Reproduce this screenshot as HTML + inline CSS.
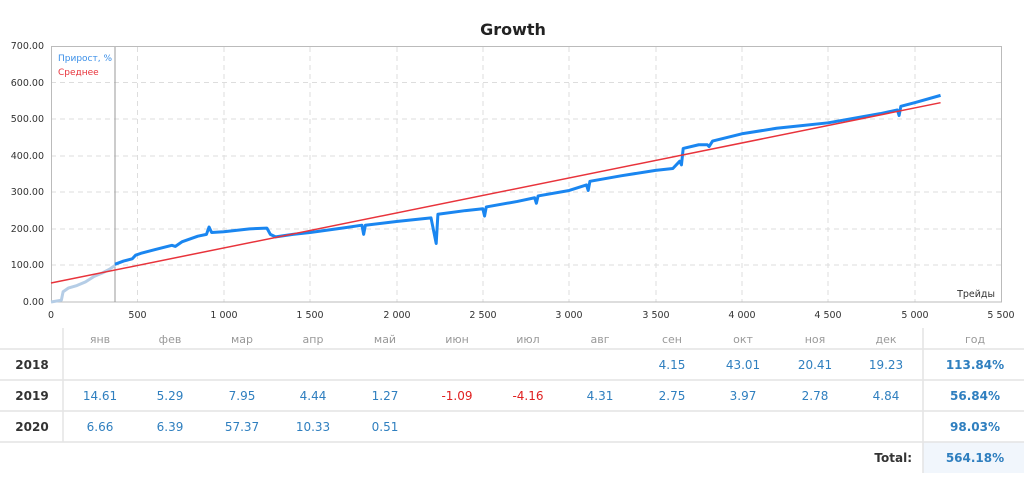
<!DOCTYPE html>
<html><head><meta charset="utf-8"><style>
body{margin:0;background:#fff;width:1024px;height:473px;overflow:hidden;font-family:"Liberation Sans","DejaVu Sans",sans-serif}
svg text{font-family:"DejaVu Sans","Liberation Sans",sans-serif}
</style></head><body>
<svg width="1024" height="473" viewBox="0 0 1024 473" xmlns="http://www.w3.org/2000/svg">
<text x="513" y="35" text-anchor="middle" font-size="16" font-weight="bold" fill="#222">Growth</text>
<g stroke="#ddd" stroke-dasharray="5,4" stroke-width="1">
<line x1="51" x2="1001" y1="82.5" y2="82.5"/><line x1="51" x2="1001" y1="119" y2="119"/><line x1="51" x2="1001" y1="156" y2="156"/><line x1="51" x2="1001" y1="192" y2="192"/><line x1="51" x2="1001" y1="229" y2="229"/><line x1="51" x2="1001" y1="265" y2="265"/>
<line x1="137.5" x2="137.5" y1="47" y2="302"/><line x1="224" x2="224" y1="47" y2="302"/><line x1="310" x2="310" y1="47" y2="302"/><line x1="397" x2="397" y1="47" y2="302"/><line x1="483" x2="483" y1="47" y2="302"/><line x1="569" x2="569" y1="47" y2="302"/><line x1="656" x2="656" y1="47" y2="302"/><line x1="742" x2="742" y1="47" y2="302"/><line x1="828" x2="828" y1="47" y2="302"/><line x1="915" x2="915" y1="47" y2="302"/>
</g>
<rect x="51.5" y="46.5" width="950" height="255.5" fill="none" stroke="#bbb"/>
<line x1="115" x2="115" y1="47" y2="302" stroke="#999"/>
<g font-size="9.5" fill="#333" text-anchor="end">
<text x="44" y="49">700.00</text><text x="44" y="86">600.00</text><text x="44" y="122">500.00</text><text x="44" y="159">400.00</text><text x="44" y="195">300.00</text><text x="44" y="232">200.00</text><text x="44" y="268">100.00</text><text x="44" y="305">0.00</text>
</g>
<g font-size="9.5" fill="#333" text-anchor="middle">
<text x="51" y="318">0</text><text x="137.5" y="318">500</text><text x="224" y="318">1 000</text><text x="310" y="318">1 500</text><text x="397" y="318">2 000</text><text x="483" y="318">2 500</text><text x="569" y="318">3 000</text><text x="656" y="318">3 500</text><text x="742" y="318">4 000</text><text x="828" y="318">4 500</text><text x="915" y="318">5 000</text><text x="1001" y="318">5 500</text>
</g>
<text x="995" y="297" font-size="9.5" fill="#333" text-anchor="end">Трейды</text>
<text x="58" y="61" font-size="9" fill="#3b8fe8">Прирост, %</text>
<text x="58" y="75" font-size="9" fill="#e8333b">Среднее</text>
<g transform="translate(51,302) scale(0.17273,-0.3657)" fill="none" stroke-linejoin="round">
<polyline vector-effect="non-scaling-stroke" stroke="#b5cde6" stroke-width="3" points="0,0 60,5 70,28 100,38 150,45 200,55 250,70 300,80 340,90 370,100"/>
<polyline vector-effect="non-scaling-stroke" stroke="#1a86f0" stroke-width="3" points="370,103 420,112 470,118 490,128 520,133 600,143 700,155 720,152 760,165 850,180 900,185 915,205 930,190 1000,192 1150,200 1250,202 1270,185 1300,178 1400,185 1500,190 1700,203 1800,210 1810,185 1820,210 2000,220 2200,230 2230,160 2240,240 2400,250 2500,255 2510,235 2520,260 2700,275 2800,285 2810,270 2820,290 3000,305 3100,320 3110,305 3120,330 3300,345 3500,360 3600,365 3640,385 3650,375 3660,420 3750,430 3800,430 3810,425 3830,440 4000,460 4200,475 4500,490 4800,515 4900,525 4910,510 4920,535 5000,545 5150,565"/>
<line vector-effect="non-scaling-stroke" x1="0" y1="52" x2="5150" y2="545" stroke="#e8333b" stroke-width="1.5"/>
</g>
<rect x="923" y="442" width="101" height="31" fill="#f1f6fc"/>
<g stroke="#e4e4e4" stroke-width="1.5">
<line x1="0" x2="1024" y1="349" y2="349"/><line x1="0" x2="1024" y1="380" y2="380"/><line x1="0" x2="1024" y1="411" y2="411"/><line x1="0" x2="1024" y1="442" y2="442"/>
<line x1="63" x2="63" y1="328" y2="442"/><line x1="923" x2="923" y1="328" y2="473"/>
</g>
<g font-size="11" fill="#999" text-anchor="middle">
<text x="100" y="343">янв</text><text x="170" y="343">фев</text><text x="242" y="343">мар</text><text x="313" y="343">апр</text><text x="385" y="343">май</text><text x="457" y="343">июн</text><text x="528" y="343">июл</text><text x="600" y="343">авг</text><text x="672" y="343">сен</text><text x="743" y="343">окт</text><text x="815" y="343">ноя</text><text x="886" y="343">дек</text><text x="975" y="343">год</text>
</g>
<g font-size="12" fill="#333" font-weight="bold" text-anchor="middle">
<text x="32" y="369">2018</text><text x="32" y="400">2019</text><text x="32" y="431">2020</text>
</g>
<g font-size="12" fill="#2f7fbf" text-anchor="middle">
<text x="672" y="369">4.15</text><text x="743" y="369">43.01</text><text x="815" y="369">20.41</text><text x="886" y="369">19.23</text>
<text x="100" y="400">14.61</text><text x="170" y="400">5.29</text><text x="242" y="400">7.95</text><text x="313" y="400">4.44</text><text x="385" y="400">1.27</text><text x="457" y="400" fill="#e02020">-1.09</text><text x="528" y="400" fill="#e02020">-4.16</text><text x="600" y="400">4.31</text><text x="672" y="400">2.75</text><text x="743" y="400">3.97</text><text x="815" y="400">2.78</text><text x="886" y="400">4.84</text>
<text x="100" y="431">6.66</text><text x="170" y="431">6.39</text><text x="242" y="431">57.37</text><text x="313" y="431">10.33</text><text x="385" y="431">0.51</text>
</g>
<g font-size="12" fill="#2f7fbf" font-weight="bold" text-anchor="middle">
<text x="975" y="369">113.84%</text><text x="975" y="400">56.84%</text><text x="975" y="431">98.03%</text><text x="975" y="462">564.18%</text>
</g>
<text x="912" y="462" font-size="12" font-weight="bold" fill="#333" text-anchor="end">Total:</text>
</svg>
</body></html>
